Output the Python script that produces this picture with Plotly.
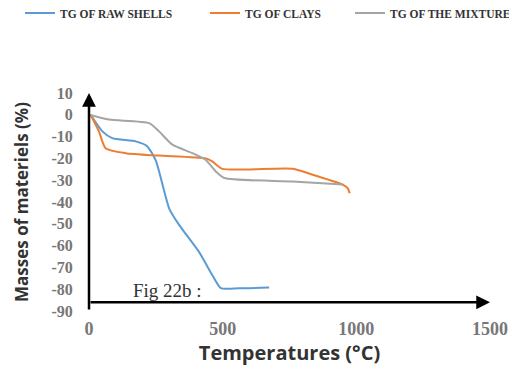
import plotly.graph_objects as go

shells_x = [6, 50, 87, 175, 218, 250, 300, 337, 412, 461, 493, 560, 674]
shells_y = [0, -7.6, -10.7, -12.2, -14.5, -21, -43, -50.5, -63, -73.5, -79.5, -79.6, -79.2]

clays_x = [6, 37, 62, 137, 262, 437, 461, 499, 762, 837, 949, 968, 975]
clays_y = [0, -7.6, -15.3, -17.6, -18.7, -20, -21.4, -24.8, -24.7, -27.5, -32, -33.7, -36]

mix_x = [0, 75, 225, 262, 312, 387, 437, 474, 506, 762, 949]
mix_y = [0, -2.2, -3.8, -7.6, -13.7, -17.6, -20.7, -26, -29, -30.6, -32]

names = ["TG OF RAW SHELLS", "TG OF CLAYS", "TG OF THE MIXTURE"]
colors = ["#5B9BD5", "#ED7D31", "#A5A5A5"]

x_ticks = [0, 500, 1000, 1500]
y_ticks = [10, 0, -10, -20, -30, -40, -50, -60, -70, -80, -90]

legend_ids = ["legend", "legend2", "legend3"]
legend_x = [12 / 509, 197 / 509, 342 / 509]

fig = go.Figure()
for xs, ys, n, c, lg in zip([shells_x, clays_x, mix_x], [shells_y, clays_y, mix_y], names, colors, legend_ids):
    fig.add_trace(go.Scatter(x=xs, y=ys, mode="lines", name=n, legend=lg,
                             line=dict(color=c, width=2, shape="spline", smoothing=0.6)))

serif = "Liberation Serif"
leg_font = dict(family=serif, size=11.5, color="#333", weight="bold")
legends = {}
for lg, lx in zip(legend_ids, legend_x):
    legends[lg] = dict(orientation="h", x=lx, y=0.986, xref="container", yref="container",
                       xanchor="left", yanchor="middle", font=leg_font,
                       bgcolor="rgba(0,0,0,0)")

fig.update_layout(
    width=509, height=366,
    margin=dict(l=81, r=27, t=85, b=63, autoexpand=False),
    paper_bgcolor="white", plot_bgcolor="white",
    showlegend=True,
    **legends,
    xaxis=dict(range=[0, 1500], tickvals=x_ticks, ticktext=[str(v) for v in x_ticks],
               showgrid=False, zeroline=False, showline=False, automargin=False,
               ticks="outside", ticklen=1, tickcolor="rgba(0,0,0,0)",
               tickfont=dict(family=serif, size=18, color="#777", weight="bold"),
               title=dict(text="<b>Temperatures (°C)</b>", standoff=8,
                          font=dict(family="Open Sans", size=20, color="#333"))),
    yaxis=dict(range=[-90, 10], tickvals=y_ticks, ticktext=[str(v) for v in y_ticks],
               showgrid=False, zeroline=False, showline=False, automargin=False,
               ticks="outside", ticklen=12, tickcolor="rgba(0,0,0,0)",
               tickfont=dict(family=serif, size=16, color="#777", weight="bold"),
               title=dict(text="<b>Masses of materiels (%)</b>", standoff=18,
                          font=dict(family="Open Sans", size=17, color="#333"))),
)

# axis arrows
fig.add_annotation(x=0, y=10, ax=0, ay=-90, xref="x", yref="y", axref="x", ayref="y",
                   showarrow=True, arrowhead=2, arrowsize=1.1, arrowwidth=2.5, arrowcolor="black", text="")
fig.add_annotation(x=1500, y=-86, ax=0, ay=-86, xref="x", yref="y", axref="x", ayref="y",
                   showarrow=True, arrowhead=2, arrowsize=1.1, arrowwidth=2.5, arrowcolor="black", text="")
fig.add_annotation(x=157, y=-80.8, xref="x", yref="y", text="Fig 22b :", showarrow=False,
                   xanchor="left", yanchor="middle",
                   font=dict(family=serif, size=19, color="#333"))

fig.write_html("out.html")
